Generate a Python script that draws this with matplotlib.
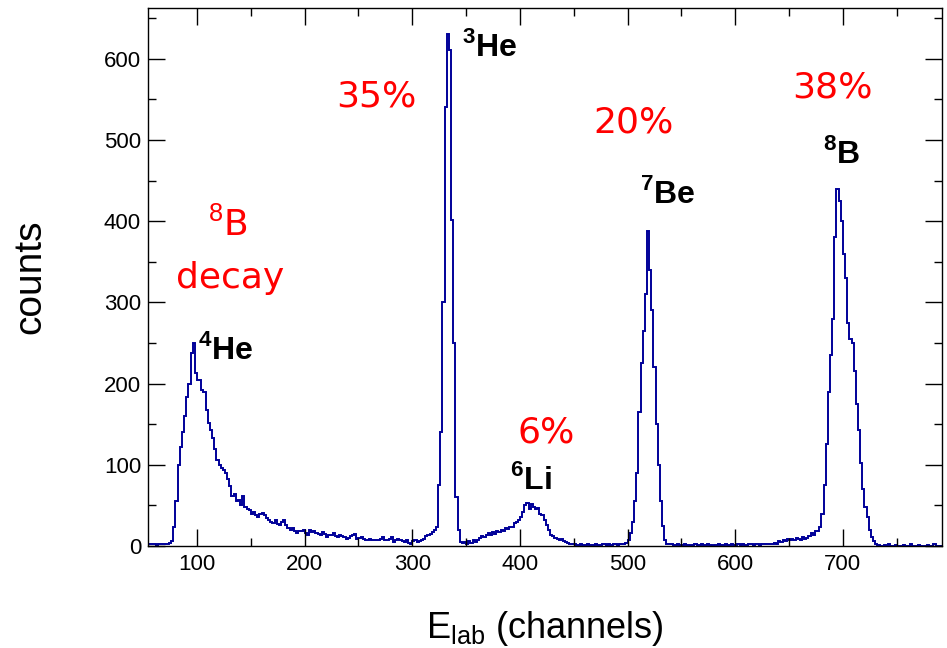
import numpy as np
import matplotlib
matplotlib.use("Agg")
from matplotlib import pyplot as plt
from matplotlib.ticker import MultipleLocator

plt.rcParams['font.family'] = ['Liberation Sans', 'DejaVu Sans']
plt.rcParams['mathtext.fontset'] = 'custom'
plt.rcParams['mathtext.rm'] = 'Liberation Sans'
plt.rcParams['mathtext.bf'] = 'Liberation Sans:bold'

# spectrum, 2-channel bins starting at channel 54
bin_start = 54
bin_width = 2
pre_peak = [2, 3, 3, 2, 1, 3, 2, 2, 3, 2, 4]                      # 54-76
he4_peak = [6, 24, 55, 100, 122, 140, 160, 184, 200, 238,
            250, 213, 205, 205, 192, 190, 168, 151, 143, 133,
            120, 106, 100, 96, 94, 90, 82, 74, 62, 64,
            55, 57, 50, 62, 48, 46, 44, 40, 42, 38,
            36, 40]                                              # 76-160
he4_tail = [41, 38, 34, 32, 30, 28, 32, 27, 26, 30,
            32, 26, 22, 20, 22, 19, 16, 19, 18, 20,
            16, 14, 20, 17, 18, 16, 15, 14, 17, 15,
            11, 13, 14, 16, 12, 11, 14, 12, 11, 9,
            10, 12, 14, 15, 9, 10, 11, 9, 8, 7,
            9, 8, 8, 7, 8, 9, 11, 8, 7, 9,
            11, 5, 7, 9, 7, 6, 5, 7, 4, 3,
            6, 7, 5]                                             # 160-306
he3_rise = [6, 8, 9, 12, 14, 15, 17, 20, 24]                     # 306-324
he3_peak = [75, 140, 300, 540, 631, 611, 401, 250, 60, 20, 5]    # 324-346
li6_rise = [4, 5, 3, 6, 4, 7, 5, 8, 10, 12,
            11, 14, 16, 14, 17, 15, 18, 17, 20, 19,
            22, 21, 24, 23, 28, 30, 32]                          # 346-400
li6_peak = [36, 42, 50, 53, 45, 52, 48, 46, 47, 40,
            38, 32, 26, 20, 14, 12, 10, 9, 8, 9,
            6, 5, 4, 3, 2, 3, 1]                                 # 400-454
gap_be = [1, 2, 1, 1, 2, 1, 1, 1, 2, 1,
          1, 2, 3, 1, 2, 1, 2, 3, 1, 2,
          2, 3, 4]                                               # 454-500
be7_peak = [8, 16, 30, 55, 90, 165, 225, 265, 310, 388,
            340, 290, 220, 150, 100, 55, 25, 8, 3, 2]            # 500-540
gap_b = [2, 1, 1, 2, 1,
         1, 2, 1, 1, 0, 1, 2, 1, 1, 2,
         1, 1, 2, 1, 0, 1, 1, 2, 1, 1,
         2, 1, 1, 2, 1, 1, 2, 1, 2, 1,
         1, 2, 2, 1, 3, 2, 1, 2, 3, 2,
         2, 3, 2, 4, 3,
         6, 5, 7, 6, 9]                                          # 540-650
b8_peak = [7, 9, 8, 10, 9, 8, 11, 9, 10, 12,
           16, 14, 18, 18, 24, 40, 75, 125, 190, 235,
           280, 380, 440, 425, 400, 360, 330, 275, 255, 250,
           215, 175, 143, 102, 70, 48, 36, 20, 11, 6,
           3]                                                    # 650-732
after_b8 = [1, 0, 0, 1, 0, 2, 0, 0, 1, 0,
            0, 0, 1, 0, 0, 2, 0, 0, 0, 1,
            0, 0, 0, 1, 0, 0, 2, 0, 0, 0]                        # 732-792

counts = np.array(pre_peak + he4_peak + he4_tail + he3_rise + he3_peak + li6_rise
                  + li6_peak + gap_be + be7_peak + gap_b + b8_peak + after_b8, dtype=float)
edges = bin_start + bin_width * np.arange(len(counts) + 1)

# labels: (text, x, y)
ion_labels = [(r'$^{\mathbf{3}}$He', 371.5, 614),
              (r'$^{\mathbf{4}}$He', 126.5, 241),
              (r'$^{\mathbf{6}}$Li', 410.5, 81),
              (r'$^{\mathbf{7}}$Be', 537, 433),
              (r'$^{\mathbf{8}}$B', 698.5, 483)]
pct_labels = [("35%", 266.5, 553),
              ("20%", 505.5, 522),
              ("38%", 690, 564),
              ("6%", 424.5, 140),
              (r'$^{8}$B', 129, 395),
              ("decay", 131, 330)]

fig = plt.figure(figsize=(9.47, 6.48), dpi=100)
ax = fig.add_axes([0.1563, 0.1574, 0.8384, 0.8303])

ax.stairs(counts, edges, color='#000099', lw=1.4)

ax.set_xlim(54.5, 792)
ax.set_ylim(0, 662.5)
ax.xaxis.set_major_locator(MultipleLocator(100))
ax.xaxis.set_minor_locator(MultipleLocator(50))
ax.yaxis.set_major_locator(MultipleLocator(100))
ax.yaxis.set_minor_locator(MultipleLocator(50))
ax.tick_params(which='both', direction='in', top=True, right=True, width=1.0, labelsize=16)
ax.tick_params(which='major', length=12)
ax.tick_params(which='minor', length=6)
ax.tick_params(axis='x', pad=6)
ax.tick_params(axis='y', pad=5)
for s in ax.spines.values():
    s.set_linewidth(1.0)

ax.set_xlabel(r'E$_{\mathrm{lab}}$ (channels)', fontsize=26)
ax.xaxis.set_label_coords(0.5, -0.118)
ax.set_ylabel('counts', fontsize=28)
ax.yaxis.set_label_coords(-0.125, 0.5)

for t, x, y in ion_labels:
    ax.text(x, y, t, fontsize=23, fontweight='bold', ha='center', va='center')
for t, x, y in pct_labels:
    ax.text(x, y, t, fontsize=26, color='red', ha='center', va='center', family='DejaVu Sans')

fig.savefig("out.png", dpi=100)
